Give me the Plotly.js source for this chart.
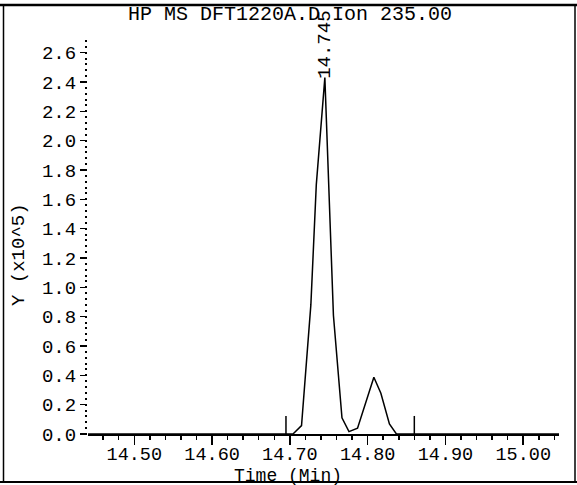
<!DOCTYPE html>
<html>
<head>
<meta charset="utf-8">
<script src="https://cdn.plot.ly/plotly-3.0.1.min.js"></script>
<style>
html,body{margin:0;padding:0;background:#fff;}
#chart{width:577px;height:485px;}
</style>
</head>
<body>
<div id="chart"></div>
<script>
// Retention time (min) and abundance (x10^5)
var timeMin = [14.440, 14.704, 14.715, 14.727, 14.734, 14.745, 14.756, 14.767, 14.776, 14.787, 14.808, 14.817, 14.828, 14.837, 15.046];
var abundance = [0.000, 0.000, 0.057, 0.880, 1.700, 2.430, 0.810, 0.110, 0.016, 0.039, 0.387, 0.278, 0.068, 0.000, 0.000];

// Integration boundary markers
var markerTimes = [14.695, 14.860];
var markerHeight = 0.123;

// Peak label
var peakTime = 14.745;
var peakLabel = "14.745";

var titleText = "HP MS DFT1220A.D Ion 235.00";
var xTitle = "Time (Min)";
var yTitle = "Y (x10^5)";
var xTickVals = [14.50, 14.60, 14.70, 14.80, 14.90, 15.00];
var xTickText = ["14.50", "14.60", "14.70", "14.80", "14.90", "15.00"];
var yTickVals = [0.0, 0.2, 0.4, 0.6, 0.8, 1.0, 1.2, 1.4, 1.6, 1.8, 2.0, 2.2, 2.4, 2.6];
var yTickText = ["0.0","0.2","0.4","0.6","0.8","1.0","1.2","1.4","1.6","1.8","2.0","2.2","2.4","2.6"];

var FONT = "Liberation Mono, DejaVu Sans Mono, monospace";

var mx = [], my = [];
markerTimes.forEach(function(t){ mx.push(t, t, null); my.push(0, markerHeight, null); });

var traces = [
  {x: timeMin, y: abundance, mode: 'lines', line: {color: '#000', width: 1.5}, hoverinfo: 'skip', cliponaxis: false},
  {x: mx, y: my, mode: 'lines', line: {color: '#000', width: 1.5}, hoverinfo: 'skip'}
];

function px2x(p){ return (p - 88) / 471; }
function py2y(p){ return (434 - p) / 396; }

var layout = {
  width: 577, height: 485,
  margin: {l: 88, r: 18, t: 38, b: 51},
  paper_bgcolor: '#fff', plot_bgcolor: '#fff',
  showlegend: false,
  font: {family: FONT, size: 19, color: '#000'},
  xaxis: {
    range: [14.4405, 15.046],
    tickmode: 'array', tickvals: xTickVals, ticktext: xTickText,
    ticks: 'outside', ticklen: 9, tickwidth: 1.5, tickcolor: '#000',
    ticklabelstandoff: -7,
    showline: true, linecolor: '#000', linewidth: 1.5,
    showgrid: false, zeroline: false,
    tickfont: {family: FONT, size: 18.5, color: '#000'},
    minor: {dtick: 0.02, tick0: 14.40, ticks: 'outside', ticklen: 4, tickwidth: 1.5, tickcolor: '#000', showgrid: false}
  },
  yaxis: {
    range: [0, 2.70],
    tickmode: 'array', tickvals: yTickVals, ticktext: yTickText,
    ticks: 'outside', ticklen: 7, tickwidth: 1.5, tickcolor: '#000',
    showline: false, showgrid: false, zeroline: false,
    tickfont: {family: FONT, size: 19, color: '#000'},
    minor: {dtick: 0.04, tick0: 0, ticks: 'outside', ticklen: 2, tickwidth: 2, tickcolor: '#000', showgrid: false}
  },
  annotations: [
    {xref: 'paper', yref: 'paper', x: px2x(290), y: py2y(14), text: titleText, showarrow: false,
     xanchor: 'center', yanchor: 'middle', font: {family: FONT, size: 20, color: '#000'}},
    {xref: 'paper', yref: 'paper', x: px2x(288), y: py2y(476), text: xTitle, showarrow: false,
     xanchor: 'center', yanchor: 'middle', font: {family: FONT, size: 18, color: '#000'}},
    {xref: 'paper', yref: 'paper', x: px2x(19), y: py2y(255), text: yTitle, showarrow: false, textangle: -90,
     xanchor: 'center', yanchor: 'middle', font: {family: FONT, size: 19, color: '#000'}},
    {xref: 'x', yref: 'paper', x: peakTime, y: py2y(45), text: peakLabel, showarrow: false, textangle: -90,
     xanchor: 'center', yanchor: 'middle', font: {family: FONT, size: 19, color: '#000'}}
  ],
  shapes: [
    // outer frame
    {type: 'line', xref: 'paper', yref: 'paper', x0: px2x(0), x1: px2x(577), y0: py2y(5), y1: py2y(5), line: {color: '#000', width: 2.5}},
    {type: 'line', xref: 'paper', yref: 'paper', x0: px2x(3.5), x1: px2x(3.5), y0: py2y(5), y1: py2y(482), line: {color: '#000', width: 1.5}},
    {type: 'line', xref: 'paper', yref: 'paper', x0: px2x(575), x1: px2x(575), y0: py2y(5), y1: py2y(482), line: {color: '#000', width: 1.5}},
    {type: 'line', xref: 'paper', yref: 'paper', x0: px2x(0), x1: px2x(577), y0: py2y(482), y1: py2y(482), line: {color: '#000', width: 2}}
  ]
};

Plotly.newPlot('chart', traces, layout, {displayModeBar: false, staticPlot: true});
</script>
</body>
</html>
